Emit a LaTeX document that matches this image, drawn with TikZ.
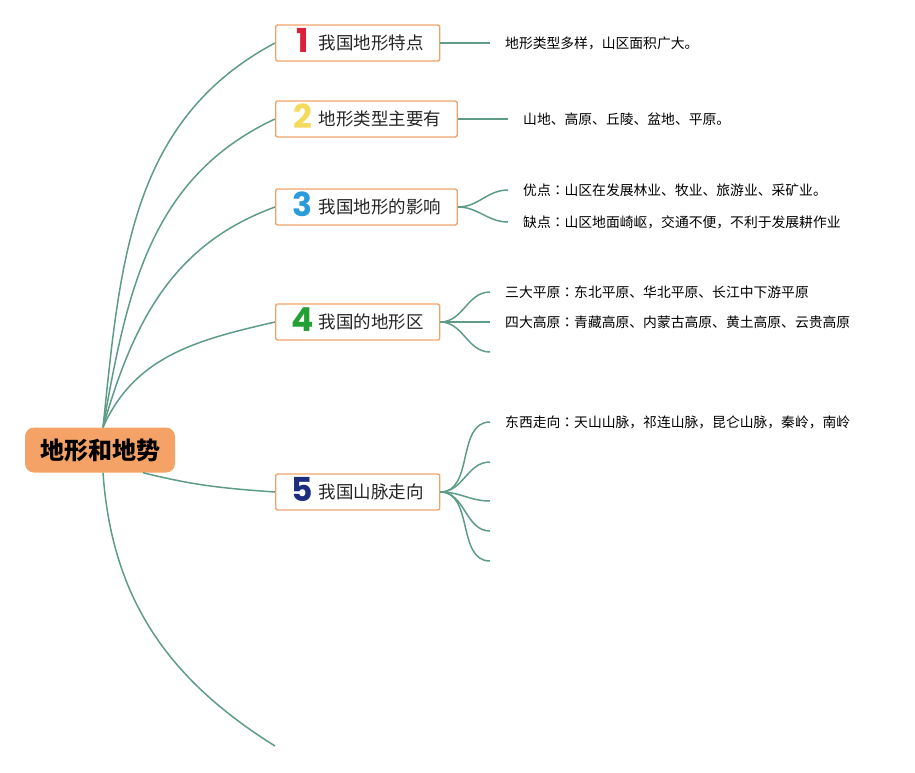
\documentclass[tikz,border=0pt]{standalone}
\usepackage{fontspec}
\setmainfont{Noto Sans CJK SC}
\newfontfamily\tcfont{Noto Sans CJK TC}
\newfontfamily\numfont{Poppins}
\usetikzlibrary{positioning}

\definecolor{branchline}{HTML}{5E9C87}
\definecolor{boxedge}{HTML}{F0A46C}
\definecolor{rootfill}{HTML}{F4A266}
\definecolor{numone}{HTML}{D9213A}
\definecolor{numtwo}{HTML}{F6DA5B}
\definecolor{numthree}{HTML}{2A9BDB}
\definecolor{numfour}{HTML}{22A033}
\definecolor{numfive}{HTML}{1D2D7E}

\tikzset{
  root/.style={fill=rootfill,rounded corners=9pt,minimum width=150pt,minimum height=45pt,
    font=\fontsize{24}{27}\selectfont\bfseries},
  topic/.style={draw=boxedge,line width=1.4pt,rounded corners=2pt,fill=white,anchor=west,
    minimum height=36pt,inner xsep=16pt,inner ysep=0pt,text=black!85,
    font=\fontsize{17.5}{20}\selectfont},
  leaf/.style={inner sep=0pt,anchor=west,font=\fontsize{13.8}{16}\selectfont},
  link/.style={draw=branchline,line width=1.5pt},
}
\newcommand{\topicnum}[2]{\makebox[22pt][c]{\raisebox{-3pt}[0pt][0pt]{\color{#1}\numfont\fontsize{33}{33}\selectfont\bfseries #2}}\hspace{5pt}}
\newcommand{\cjkcolon}{{\tcfont ：}}

\begin{document}
\begin{tikzpicture}[x=1pt,y=-1pt]

  \useasboundingbox (0,0) rectangle (915,772);

  \node [root] (root) at (100,450) {地形和地势};

  \node [topic] (t1) at (275,43)  {\topicnum{numone}{1}我国地形特点};
  \node [topic] (t2) at (275,119) {\topicnum{numtwo}{2}地形类型主要有};
  \node [topic] (t3) at (275,207) {\topicnum{numthree}{3}我国地形的影响};
  \node [topic] (t4) at (275,322) {\topicnum{numfour}{4}我国的地形区};
  \node [topic] (t5) at (275,492) {\topicnum{numfive}{5}我国山脉走向};
  \coordinate (tail) at (275,746);

  % leaf ends
  \coordinate (e1)  at (490,43);
  \coordinate (e2)  at (508,119);
  \coordinate (e3a) at (508,190);
  \coordinate (e3b) at (508,222);
  \coordinate (e4a) at (490,292);
  \coordinate (e4b) at (490,322);
  \coordinate (e4c) at (490,352);
  \coordinate (e5a) at (490,422);
  \coordinate (e5b) at (490,462);
  \coordinate (e5c) at (490,501);
  \coordinate (e5d) at (490,531);
  \coordinate (e5e) at (490,561);

  \node [leaf,right=15pt of e1]  (l1)  {地形类型多样，山区面积广大。};
  \node [leaf,right=15pt of e2]  (l2)  {山地、高原、丘陵、盆地、平原。};
  \node [leaf,right=15pt of e3a] (l3a) {优点\cjkcolon 山区在发展林业、牧业、旅游业、采矿业。};
  \node [leaf,right=15pt of e3b] (l3b) {缺点\cjkcolon 山区地面崎岖，交通不便，不利于发展耕作业};
  \node [leaf,right=15pt of e4a] (l4a) {三大平原\cjkcolon 东北平原、华北平原、长江中下游平原};
  \node [leaf,right=15pt of e4b] (l4b) {四大高原\cjkcolon 青藏高原、内蒙古高原、黄土高原、云贵高原};
  \node [leaf,right=15pt of e5a] (l5a) {东西走向\cjkcolon 天山山脉，祁连山脉，昆仑山脉，秦岭，南岭};

  \path [link]
    ([xshift=3pt]root.north)  edge [out=84,in=208] (t1.west)
    ([xshift=3pt]root.north)  edge [out=80,in=205] (t2.west)
    ([xshift=3pt]root.north)  edge [out=74,in=200] (t3.west)
    ([xshift=3pt]root.north)  edge [out=66,in=193] (t4.west)
    ([xshift=43pt]root.south) edge [out=-14,in=176] (t5.west)
    ([xshift=3pt]root.south)  edge [out=-86,in=148] (tail);

  \path [link]
    (t1.east) edge (e1)
    (t2.east) edge (e2)
    (t3.east) edge [out=0,in=180] (e3a)
    (t3.east) edge [out=0,in=180] (e3b)
    (t4.east) edge [out=0,in=180] (e4a)
    (t4.east) edge (e4b)
    (t4.east) edge [out=0,in=180] (e4c)
    (t5.east) edge [out=0,in=180] (e5a)
    (t5.east) edge [out=0,in=180] (e5b)
    (t5.east) edge [out=0,in=180] (e5c)
    (t5.east) edge [out=0,in=180] (e5d)
    (t5.east) edge [out=0,in=180] (e5e);

\end{tikzpicture}
\end{document}
